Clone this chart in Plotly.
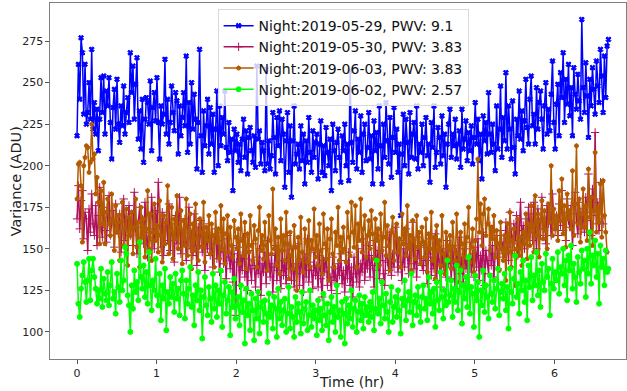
import numpy as np
import plotly.graph_objects as go

DT = 0.01674  # hours between exposures

labels = ["Night:2019-05-29, PWV: 9.1", "Night:2019-05-30, PWV: 3.83",
          "Night:2019-06-03, PWV: 3.83", "Night:2019-06-02, PWV: 2.57"]

blue = [
218,261,240,277,268,231,261,225,232,250,228,270,222,238,219,234,209,228,253,232,
254,219,245,236,253,226,204,235,246,222,252,225,214,236,224,248,219,232,241,226,
268,244,260,228,249,265,216,233,210,240,202,228,241,238,225,251,209,235,244,227,
253,226,204,236,225,231,264,219,240,213,226,248,232,221,244,239,207,236,218,229,
244,224,266,208,238,213,250,222,243,228,198,226,270,218,196,233,212,224,240,207,
235,213,231,196,222,245,200,236,212,229,219,245,211,203,226,208,216,185,222,209,
219,202,213,197,216,228,205,221,195,217,223,209,202,218,199,260,216,221,201,214,
209,197,258,201,215,198,206,232,217,195,229,212,233,203,228,219,187,215,232,196,
224,181,215,236,201,207,213,198,224,203,219,189,215,202,229,208,196,221,205,214,
219,192,213,227,196,212,194,223,208,200,216,185,225,209,197,214,222,205,190,218,
209,225,200,213,191,257,214,202,221,233,198,216,208,230,196,219,225,203,211,232,
204,218,189,227,209,220,198,236,212,189,225,205,238,215,201,229,193,217,235,208,
222,196,213,170,207,231,200,228,214,195,232,205,219,226,204,236,198,213,208,225,
200,217,229,206,213,190,226,211,236,199,208,223,217,201,230,206,219,187,213,225,
234,205,219,212,228,204,213,221,199,234,210,216,227,203,220,209,224,201,217,238,
213,228,203,219,192,230,215,226,207,244,219,208,225,213,197,236,210,222,248,205,
229,215,256,210,236,222,204,239,211,195,228,218,245,216,233,209,227,252,223,213,
240,254,224,231,213,247,222,238,245,228,210,236,250,219,234,221,243,263,226,210,
237,249,218,256,241,268,226,252,237,261,230,247,218,259,243,234,255,239,228,288,
247,232,262,242,217,252,236,259,246,231,263,248,238,270,254,232,266,241,272,276]

magenta = [
168,188,162,179,185,156,172,168,149,174,160,183,165,158,176,152,170,187,163,157,
175,161,154,169,182,158,166,173,151,177,164,159,171,148,166,180,155,169,162,176,
158,171,152,184,163,147,166,175,156,168,153,178,160,145,170,157,181,162,150,173,
159,190,164,151,172,146,161,168,155,177,149,165,158,142,170,153,163,181,147,160,
154,168,143,162,175,150,159,146,171,155,140,163,152,167,148,158,137,160,150,165,
146,158,139,153,162,144,155,136,150,160,141,148,132,156,145,138,152,130,147,110,
142,151,128,146,137,157,133,144,125,149,138,131,153,140,127,145,135,150,122,141,
136,148,129,155,141,133,146,124,139,152,131,143,137,126,149,134,142,129,158,138,
145,131,150,127,141,135,153,128,144,139,124,147,133,156,130,142,137,126,148,134,
140,127,146,132,121,143,136,150,128,139,133,125,145,131,138,123,141,134,147,129,
137,124,143,132,148,128,139,121,145,135,130,150,127,141,136,156,131,144,138,152,
133,146,140,127,155,137,149,132,143,158,135,128,151,142,137,160,134,147,139,163,
148,136,155,142,131,150,139,162,145,135,153,141,166,138,149,133,157,144,152,140,
137,151,143,129,147,156,134,145,138,159,131,148,142,127,150,139,146,133,155,141,
144,132,152,139,126,148,141,157,135,145,130,150,138,143,128,154,136,147,133,151,
139,156,131,146,137,160,128,149,143,135,164,140,152,133,147,158,138,145,161,150,
154,147,166,151,143,172,158,149,165,155,170,146,161,178,153,164,150,168,157,175,
160,171,155,178,163,150,174,166,158,181,162,169,153,176,165,172,158,183,167,161,
170,158,177,164,185,161,172,155,180,167,163,176,152,171,184,166,159,178,169,162,
174,160,181,167,195,172,158,186,170,220,165,178,161,190,168,165]

orange = [
180,201,202,188,154,200,205,212,211,196,202,225,204,207,183,193,178,153,185,165,
190,153,172,180,165,158,183,167,149,176,160,170,143,166,178,152,162,174,140,169,
158,172,147,163,180,151,166,139,175,157,168,145,162,185,150,171,143,160,177,155,
164,148,179,158,142,170,153,166,188,147,161,175,144,168,156,182,150,163,173,141,
167,152,180,146,160,171,138,165,149,177,156,143,168,160,151,178,142,163,155,170,
147,165,158,139,172,154,162,144,176,150,168,141,159,170,148,163,152,145,167,157,
150,162,141,171,155,146,166,138,159,148,170,152,143,164,156,139,161,175,149,158,
144,166,152,137,170,155,147,186,150,162,140,157,135,168,149,158,143,172,153,132,
160,146,138,164,151,125,157,143,169,148,136,162,154,142,167,139,155,150,174,145,
158,140,165,149,135,171,153,144,162,131,156,168,147,139,160,152,175,143,157,148,
163,150,142,172,157,146,178,160,151,176,139,165,155,180,148,162,170,145,158,167,
150,173,159,144,168,155,162,140,171,149,157,178,146,164,152,137,160,169,143,158,
165,148,156,139,171,153,162,146,176,150,158,137,167,155,144,170,151,160,141,163,
154,145,168,136,159,150,172,143,157,132,164,149,155,140,170,147,135,160,152,144,
158,138,166,151,143,171,147,130,160,153,139,165,145,157,175,142,151,162,136,155,
168,204,160,177,152,171,180,158,165,174,149,163,156,170,145,161,153,137,166,150,
143,158,131,165,148,172,139,155,162,128,150,168,146,157,140,160,153,171,144,165,
152,176,163,148,182,158,171,145,167,179,156,173,161,150,177,166,200,158,174,162,
170,155,185,167,192,159,176,151,183,168,173,162,197,158,177,212,165,180,154,171,
186,163,176,155,198,169,181,152,173,208,160,175,166,189,157,191,170,160,148]

green = [
141,117,109,126,134,142,130,118,131,144,119,137,144,133,126,117,125,120,138,115,
132,123,119,136,116,128,142,120,124,111,135,127,118,143,125,131,151,147,122,116,
100,128,114,137,124,130,119,154,133,126,140,121,136,117,148,128,113,131,125,144,
122,116,135,107,128,120,138,101,124,117,133,121,129,112,135,120,126,110,131,137,
123,108,131,117,126,139,115,122,104,128,119,136,113,125,96,121,133,116,110,127,
120,106,135,114,128,109,125,117,137,103,122,130,111,119,127,98,124,115,132,108,
116,121,104,128,112,119,93,126,110,117,101,123,113,95,120,108,124,99,115,118,
106,119,111,94,123,109,116,102,121,114,97,126,108,118,104,113,120,100,111,127,
102,115,109,97,121,106,117,112,99,124,105,114,118,101,110,125,103,116,108,113,
98,119,107,114,101,123,110,104,117,95,112,121,106,115,100,128,109,113,97,118,
111,93,120,105,116,108,125,103,114,119,100,112,122,107,117,102,121,110,115,106,
118,109,124,101,114,143,111,120,105,130,116,108,123,112,100,118,127,106,115,121,
109,125,113,99,120,116,131,107,119,124,112,135,104,118,122,110,127,115,106,121,
128,114,120,107,133,117,124,111,126,103,130,119,113,136,121,108,125,116,143,118,
122,131,109,126,118,140,113,124,137,105,128,120,133,115,145,111,127,123,103,134,
119,130,97,125,116,137,112,128,121,108,134,123,118,131,114,126,138,110,124,129,
120,135,113,127,102,138,124,117,132,146,121,129,111,136,125,143,118,131,107,140,
127,145,119,134,128,148,122,137,115,141,130,125,147,133,138,110,129,144,126,136,
131,148,123,139,135,150,128,143,119,146,137,152,126,141,133,118,145,136,129,149,
138,143,121,150,135,160,129,146,140,155,133,147,117,152,139,144,128,149,136,138]

series = [blue, magenta, orange, green]
colors = ["#0000ff", "#b0105e", "#b35a00", "#00ff00"]
symbols = ["x", "cross-thin", "pentagon", "circle"]
msizes = [4.5, 6, 4.5, 5]

fig = go.Figure()
for vals, name, col, sym, ms in zip(series, labels, colors, symbols, msizes):
    t = np.arange(len(vals)) * DT
    fig.add_trace(go.Scatter(
        x=t, y=vals, mode="lines+markers", name=name,
        line=dict(color=col, width=1.5),
        marker=dict(symbol=sym, size=ms, color=col,
                    line=dict(color=col, width=1)),
    ))

axis_common = dict(showline=True, linecolor="#7f7f7f", linewidth=1.2, mirror=True,
                   ticks="outside", ticklen=3.5, tickcolor="#555555",
                   showgrid=False, zeroline=False,
                   tickfont=dict(family="DejaVu Sans", size=11, color="#222222"))

fig.update_layout(
    width=627, height=391,
    margin=dict(l=50, r=1, t=3, b=32),
    plot_bgcolor="white", paper_bgcolor="white",
    font=dict(family="DejaVu Sans", color="#222222"),
    xaxis=dict(range=[-0.34, 6.9], tickvals=[0, 1, 2, 3, 4, 5, 6], **axis_common),
    yaxis=dict(range=[83.7, 297.9], tickvals=[100, 125, 150, 175, 200, 225, 250, 275],
               **axis_common),
    legend=dict(x=0.291, y=0.983, xanchor="left", yanchor="top",
                bgcolor="rgba(255,255,255,0.8)", bordercolor="#d9d9d9", borderwidth=1,
                font=dict(family="DejaVu Sans", size=14, color="#111111"),
                itemwidth=30, tracegroupgap=0),
    showlegend=True,
    annotations=[
        dict(text="Time (hr)", xref="paper", yref="paper", x=0.524, y=-0.0899,
             xanchor="center", yanchor="bottom", showarrow=False,
             font=dict(family="DejaVu Sans", size=14, color="#222222"),
             borderpad=0),
        dict(text="Variance (ADU)", xref="paper", yref="paper", x=-0.059, y=0.499,
             xanchor="center", yanchor="middle", showarrow=False, textangle=-90,
             font=dict(family="DejaVu Sans", size=14.5, color="#222222")),
    ],
)

fig.write_html("out.html")
